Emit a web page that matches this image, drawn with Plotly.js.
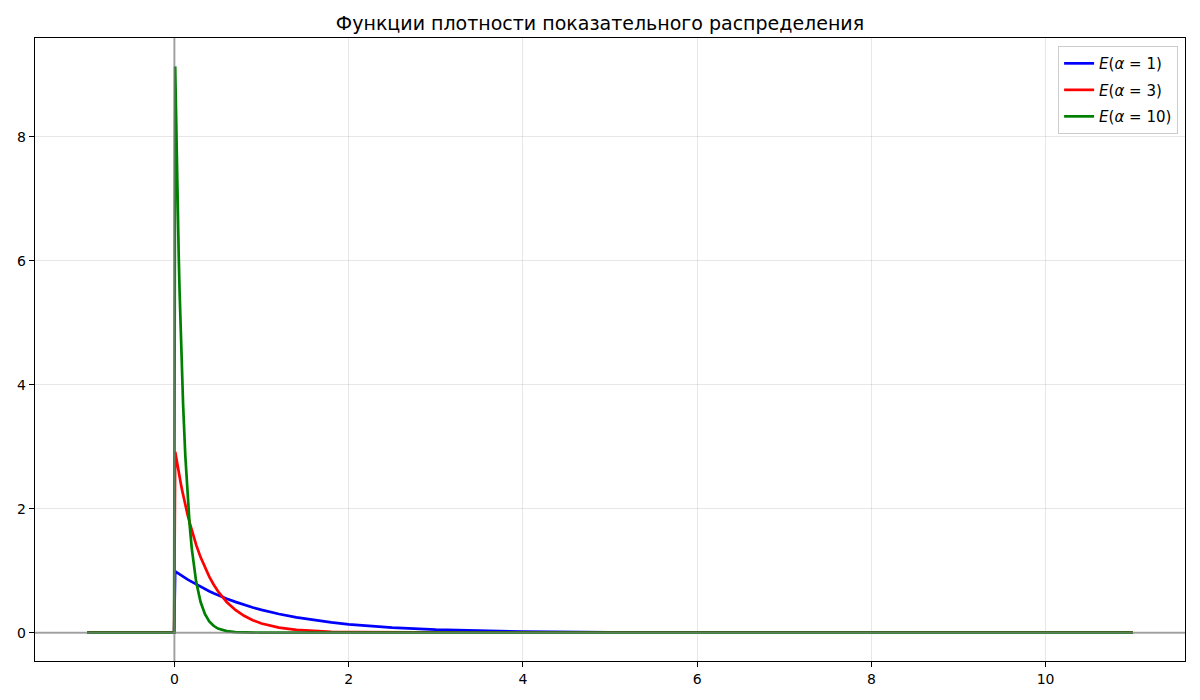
<!DOCTYPE html>
<html><head><meta charset="utf-8">
<script src="https://cdn.plot.ly/plotly-3.0.1.min.js"></script>
<style>body{margin:0;background:#fff}#plot{width:1200px;height:700px}</style>
</head><body><div id="plot"></div>
<script>
const xValues = [-1, -0.003, 0.009, 0.02, 0.03, 0.04, 0.05, 0.06, 0.075, 0.09, 0.1, 0.125, 0.15, 0.175, 0.2, 0.25, 0.3, 0.35, 0.4, 0.45, 0.5, 0.6, 0.7, 0.8, 0.9, 1.0, 1.2, 1.4, 1.6, 1.8, 2.0, 2.5, 3, 3.5, 4, 5, 6, 7, 8, 9, 11];
const densityA1 = [0, 0, 0.991, 0.980, 0.970, 0.961, 0.951, 0.942, 0.928, 0.914, 0.905, 0.882, 0.861, 0.839, 0.819, 0.779, 0.741, 0.705, 0.670, 0.638, 0.607, 0.549, 0.497, 0.449, 0.407, 0.368, 0.301, 0.247, 0.202, 0.165, 0.135, 0.082, 0.050, 0.030, 0.018, 0.0067, 0.0025, 0.0009, 0.0003, 0.0001, 0.00002];
const densityA3 = [0, 0, 2.921, 2.823, 2.741, 2.660, 2.582, 2.506, 2.397, 2.292, 2.222, 2.062, 1.912, 1.775, 1.646, 1.417, 1.220, 1.050, 0.904, 0.778, 0.669, 0.496, 0.367, 0.272, 0.202, 0.149, 0.082, 0.045, 0.025, 0.014, 0.0074, 0.0017, 0.0004, 0.0001, 0, 0, 0, 0, 0, 0, 0];
const densityA10 = [0, 0, 9.139, 8.187, 7.408, 6.703, 6.065, 5.488, 4.724, 4.066, 3.679, 2.865, 2.231, 1.738, 1.353, 0.821, 0.498, 0.302, 0.183, 0.111, 0.067, 0.025, 0.009, 0.003, 0.001, 0.0005, 0, 0, 0, 0, 0, 0, 0, 0, 0, 0, 0, 0, 0, 0, 0];
const seriesNames = ['<i>E</i>(<i>α</i> = 1)', '<i>E</i>(<i>α</i> = 3)', '<i>E</i>(<i>α</i> = 10)'];
const seriesColors = ['#0000ff', '#ff0000', '#008000'];
const titleText = 'Функции плотности показательного распределения';
const xTicks = [0, 2, 4, 6, 8, 10];
const yTicks = [0, 2, 4, 6, 8];

const ys = [densityA1, densityA3, densityA10];
const traces = ys.map((y, i) => ({
  x: xValues, y: y, type: 'scatter', mode: 'lines', name: seriesNames[i], legendgroup: 'g' + i,
  line: {color: seriesColors[i], width: 2.7}
}));

const layout = {
  width: 1200, height: 700,
  paper_bgcolor: '#fff', plot_bgcolor: '#fff',
  font: {family: 'DejaVu Sans', color: '#000', size: 14},
  margin: {l: 35, r: 15, t: 38, b: 39},
  title: {text: titleText, font: {size: 19, family: 'DejaVu Sans'}, x: 0.5, xanchor: 'center', y: 1 - 23/700, yanchor: 'middle'},
  xaxis: {range: [-1.6, 11.6], tickvals: xTicks, ticktext: xTicks.map(String), showgrid: true, gridcolor: 'rgba(176,176,176,0.3)', gridwidth: 1,
    zeroline: false, showline: true, mirror: true, linecolor: '#000', linewidth: 1.2, ticks: 'outside', ticklen: 5, tickwidth: 1, tickcolor: '#000', tickfont: {size: 14}},
  yaxis: {range: [-0.457, 9.597], tickvals: yTicks, ticktext: yTicks.map(String), showgrid: true, gridcolor: 'rgba(176,176,176,0.3)', gridwidth: 1,
    zeroline: false, showline: true, mirror: true, linecolor: '#000', linewidth: 1.2, ticks: 'outside', ticklen: 5, tickwidth: 1, tickcolor: '#000', tickfont: {size: 14}},
  shapes: [
    {type: 'line', xref: 'paper', x0: 0, x1: 1, yref: 'y', y0: 0, y1: 0, line: {color: 'rgba(128,128,128,0.7)', width: 2}, layer: 'above'},
    {type: 'line', yref: 'paper', y0: 0, y1: 1, xref: 'x', x0: 0, x1: 0, line: {color: 'rgba(128,128,128,0.7)', width: 2}, layer: 'above'}
  ],
  legend: {x: 0.994, y: 0.987, xanchor: 'right', yanchor: 'top', bgcolor: 'rgba(255,255,255,0.8)', bordercolor: '#cccccc', borderwidth: 1,
    font: {size: 15, family: 'DejaVu Sans'}, tracegroupgap: 4, itemwidth: 30},
  showlegend: true
};
Plotly.newPlot('plot', traces, layout, {displayModeBar: false, staticPlot: true});
</script></body></html>
